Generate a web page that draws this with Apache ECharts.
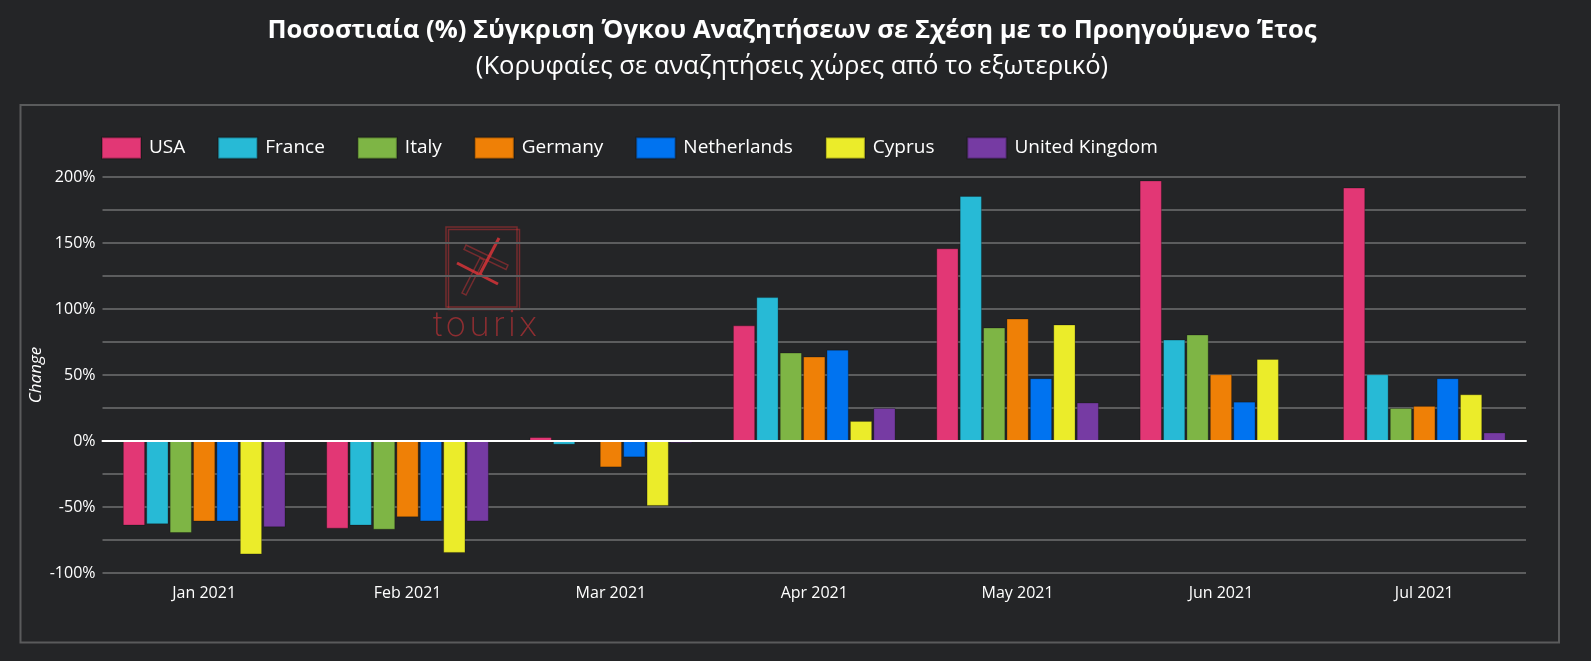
<!DOCTYPE html>
<html>
<head>
<meta charset="utf-8">
<style>
  html, body { margin: 0; padding: 0; background: #242527; }
  #chart-container { width: 1591px; height: 661px; }
</style>
<script src="https://cdn.jsdelivr.net/npm/echarts@6/dist/echarts.min.js"></script>
</head>
<body>
<div id="chart-container"></div>
<script>
const months = ["Jan 2021", "Feb 2021", "Mar 2021", "Apr 2021", "May 2021", "Jun 2021", "Jul 2021"];
const usa = [-64.1, -66.4, 3, 87.6, 146, 197.4, 192];
const france = [-63.1, -64.1, -2.8, 109, 185.7, 76.8, 50.6];
const italy = [-69.7, -67.2, -0.5, 67, 86, 80.7, 25];
const germany = [-61, -57.8, -20, 64, 92.8, 50.6, 26.6];
const netherlands = [-61, -60.9, -12.4, 69.2, 47.6, 29.8, 47.6];
const cyprus = [-85.9, -84.8, -49.2, 15.2, 88.3, 62.2, 35.4];
const uk = [-65.4, -60.9, -1.5, 25, 29.2, 0, 6.5];

const names = ["USA", "France", "Italy", "Germany", "Netherlands", "Cyprus", "United Kingdom"];
const values = [usa, france, italy, germany, netherlands, cyprus, uk];
const colors = ["#e23775", "#27bad6", "#7eb545", "#ef8006", "#0073f0", "#ebec2a", "#763ba3"];

const font = '"Open Sans", "Noto Sans", sans-serif';
const logoRed = "rgba(214, 52, 56, 0.45)";
const logoSolid = "rgba(214, 52, 56, 0.85)";

const myChart = echarts.init(document.getElementById("chart-container"));

const option = {
  animation: false,
  backgroundColor: "#242527",
  textStyle: { fontFamily: font },
  title: {
    text: "Ποσοστιαία (%) Σύγκριση Όγκου Αναζητήσεων σε Σχέση με το Προηγούμενο Έτος",
    subtext: "(Κορυφαίες σε αναζητήσεις χώρες από το εξωτερικό)",
    left: 787,
    textAlign: "center",
    top: 13,
    itemGap: 10,
    textStyle: { color: "#ffffff", fontSize: 25.6, fontWeight: "bold", fontFamily: font },
    subtextStyle: { color: "#ffffff", fontSize: 25.6, fontFamily: font },
  },
  legend: {
    data: names,
    left: 96,
    top: 131.5,
    icon: "rect",
    itemWidth: 39,
    itemHeight: 21,
    itemGap: 32,
    textStyle: { color: "#ffffff", fontSize: 19, fontFamily: font, padding: [0, 0, 0, 3] },
  },
  grid: { left: 102.5, right: 65, top: 177, height: 396 },
  xAxis: [
    {
      type: "category",
      data: months,
      position: "bottom",
      axisLine: { show: false, onZero: false },
      axisTick: { show: false },
      axisLabel: { color: "#ffffff", fontSize: 16, margin: 12 },
    },
    {
      // white zero line, labels stay on the bottom axis
      type: "category",
      data: months,
      position: "bottom",
      z: 5,
      axisLine: { onZero: true, lineStyle: { color: "#ffffff", width: 2 } },
      axisTick: { show: false },
      axisLabel: { show: false },
    },
  ],
  yAxis: {
    type: "value",
    min: -100,
    max: 200,
    interval: 25,
    name: "Change",
    nameLocation: "middle",
    nameGap: 58,
    nameMoveOverlap: false,
    nameTextStyle: { color: "#ffffff", fontSize: 17, fontStyle: "italic" },
    axisLine: { show: false },
    axisTick: { show: false },
    axisLabel: {
      color: "#ffffff",
      fontSize: 16,
      margin: 7,
      padding: [2, 0, 0, 0],
      formatter: (v) => (v % 50 === 0 ? v + "%" : ""),
    },
    splitLine: { lineStyle: { color: "#5c5d5e", width: 2 } },
  },
  graphic: [
    {
      type: "rect",
      z: -10,
      shape: { x: 20.5, y: 105, width: 1538.5, height: 537.5 },
      style: { fill: "none", stroke: "#5a5b5c", lineWidth: 2 },
    },
    {
      type: "rect",
      z: -5,
      shape: { x: 446, y: 227, width: 71, height: 80 },
      style: { fill: "none", stroke: logoRed, lineWidth: 1.5 },
    },
    {
      type: "rect",
      z: -5,
      shape: { x: 448.5, y: 229.5, width: 71, height: 80 },
      style: { fill: "none", stroke: logoRed, lineWidth: 1.5 },
    },
    {
      type: "line",
      z: -5,
      shape: { x1: 457, y1: 263, x2: 498, y2: 284 },
      style: { stroke: logoSolid, lineWidth: 3 },
    },
    {
      type: "line",
      z: -5,
      shape: { x1: 499, y1: 238, x2: 480, y2: 274 },
      style: { stroke: logoSolid, lineWidth: 3 },
    },
    {
      type: "polygon",
      z: -5,
      shape: { points: [[466, 245], [508, 265], [506, 269.5], [464, 249.5]] },
      style: { fill: "none", stroke: logoRed, lineWidth: 1.5 },
    },
    {
      type: "polygon",
      z: -5,
      shape: { points: [[484, 260], [466, 295], [462, 293], [480, 258]] },
      style: { fill: "none", stroke: logoRed, lineWidth: 1.5 },
    },
    {
      type: "text",
      z: -5,
      style: {
        x: 485,
        y: 325,
        text: "t\u200ao\u200au\u200ar\u200ai\u200ax",
        align: "center",
        verticalAlign: "middle",
        fill: "rgba(214, 52, 56, 0.6)",
        font: '200 35px Inter',
      },
    },
  ],
  series: names.map((name, i) => ({
    name: name,
    type: "bar",
    data: values[i],
    barGap: "5%",
    barCategoryGap: "20%",
    itemStyle: { color: colors[i], borderColor: "rgba(0, 0, 0, 0.25)", borderWidth: 1 },
  })),
};
myChart.setOption(option);
</script>
</body>
</html>
